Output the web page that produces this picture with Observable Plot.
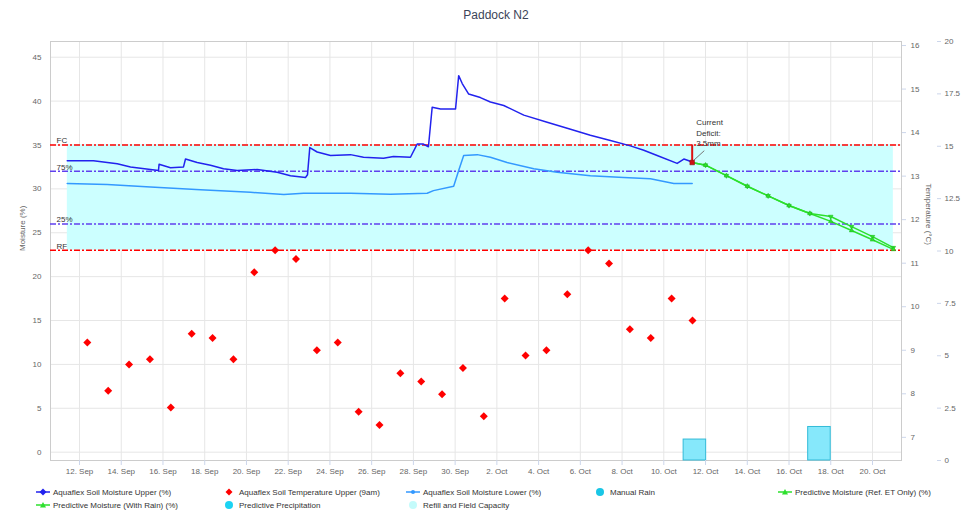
<!DOCTYPE html>
<html><head><meta charset="utf-8">
<script src="https://cdn.jsdelivr.net/npm/d3@7"></script>
<script src="https://cdn.jsdelivr.net/npm/@observablehq/plot@0.6"></script>
<style>
body{margin:0;background:#fff;font-family:"Liberation Sans",Arial,sans-serif;}
#wrap{position:relative;width:964px;height:524px;overflow:hidden;background:#fff;}
#chart{position:absolute;left:0;top:0;}
#title{position:absolute;left:14px;width:964px;top:8px;text-align:center;font-size:12px;color:#3b4458;}
.leg{position:absolute;font-size:8px;color:#333;white-space:nowrap;display:flex;align-items:center;height:12px;}
.leg svg{margin-right:2px;}
</style></head><body>
<div id="wrap"><div id="chart"></div><div id="title">Paddock N2</div><div id="legend"></div></div>
<script>
// ---------- DATA ----------
const year = 2023;
const xTickLabels = ["09-12","09-14","09-16","09-18","09-20","09-22","09-24","09-26","09-28","09-30","10-02","10-04","10-06","10-08","10-10","10-12","10-14","10-16","10-18","10-20"];
const moistureTicks = [0,5,10,15,20,25,30,35,40,45];
const temperatureTicks = [7,8,9,10,11,12,13,14,15,16];
const rainTicks = [0,2.5,5,7.5,10,12.5,15,17.5,20];

const upperMoistureTimes = ["09-11 09:52","09-12 16:06","09-13 19:21","09-14 10:40","09-15 09:39","09-15 18:51","09-15 19:30","09-16 08:38","09-16 23:36","09-17 01:54","09-17 15:21","09-18 06:39","09-18 21:36","09-19 13:20","09-20 12:21","09-21 11:21","09-22 02:38","09-22 19:55","09-22 22:12","09-23 00:50","09-23 09:20","09-24 00:40","09-24 23:38","09-25 14:36","09-26 13:36","09-27 01:05","09-27 20:38","09-28 04:19","09-28 11:33","09-28 17:18","09-28 21:36","09-29 07:12","09-30 00:29","09-30 04:05","09-30 08:10","09-30 15:36","10-01 05:02","10-01 16:34","10-02 07:55","10-03 06:58","10-04 09:50","10-05 12:43","10-06 11:31","10-07 10:34","10-08 09:36","10-09 00:58","10-09 16:19","10-10 15:21","10-10 23:02","10-11 04:48","10-11 08:38"];
const upperMoisture = [33.2,33.2,32.85,32.5,32.2,32.1,32.8,32.4,32.5,33.4,33.0,32.7,32.3,32.1,32.2,31.9,31.5,31.3,31.6,34.7,34.2,33.8,33.9,33.6,33.5,33.7,33.6,35.1,35.1,34.8,39.3,39.1,39.1,42.9,42.0,40.8,40.4,39.9,39.5,38.4,37.6,36.8,36.1,35.5,34.9,34.4,33.8,32.9,33.4,33.2,33.0];

const lowerMoistureTimes = ["09-11 09:52","09-13 07:51","09-15 09:39","09-17 19:09","09-20 04:39","09-21 18:56","09-22 17:35","09-24 23:38","09-26 21:36","09-28 15:50","09-28 23:05","09-29 22:19","09-30 04:05","09-30 09:50","10-01 01:26","10-01 16:34","10-02 11:46","10-03 18:29","10-04 21:22","10-06 11:31","10-08 01:55","10-09 08:38","10-10 11:31","10-11 08:38"];
const lowerMoisture = [30.6,30.5,30.2,29.9,29.6,29.35,29.5,29.5,29.4,29.5,29.8,30.3,32.1,33.8,33.9,33.6,33.0,32.3,31.9,31.5,31.3,31.15,30.6,30.6];

const tempDays = ["09-12","09-13","09-14","09-15","09-16","09-17","09-18","09-19","09-20","09-21","09-22","09-23","09-24","09-25","09-26","09-27","09-28","09-29","09-30","10-01","10-02","10-03","10-04","10-05","10-06","10-07","10-08","10-09","10-10","10-11"];
const soilTempUpper9am = [12.5,7.0,10.0,10.6,5.1,13.5,13.0,10.6,20.5,23.0,22.0,11.6,12.5,4.6,3.1,9.0,8.05,6.6,9.6,4.1,17.5,11.0,11.6,18.0,23.0,21.5,14.0,13.0,17.5,15.0];

const predictTimes = ["10-11 08:38","10-12 00:00","10-13 00:00","10-14 00:00","10-15 00:00","10-16 00:00","10-17 00:00","10-18 00:00","10-19 00:00","10-20 00:00","10-21 00:00"];
const predictEtOnly = [33.0,32.7,31.5,30.3,29.2,28.1,27.2,26.3,25.25,24.2,23.1];
const predictWithRain = [33.0,32.7,31.5,30.3,29.2,28.1,27.2,26.85,25.7,24.55,23.3];

const precipTimes = ["10-11 11:45","10-17 11:00"];
const precipMm = [1.0,1.6];

const thresholdLabels = ["FC","75%","25%","RF"];
const thresholdValues = [35,32,26,23];
const bandStart = "09-11 10:00", bandEnd = "10-21 00:00";

const deficitTime = "10-11 08:38", deficitMoisture = 33.0, deficitLabel = "Current\nDeficit:\n3.5mm";

// ---------- helpers ----------
const T = s => new Date(`${year}-${s.length === 5 ? s + " 00:00" : s}`.replace(" ", "T") + ":00Z");
const DAY = 864e5;
const yDomain = [-0.95, 46.79];
const tToV = t => 1.69 + (t - 7) * 4.96;
const vToT = v => (v - 1.69) / 4.96 + 7;
const rToV = r => -0.95 + r * 2.387;
const vToR = v => (v + 0.95) / 2.387;
const fmtNum = d3.format("~g");
const xFmt = d3.utcFormat("%-d. %b");

const upper = upperMoistureTimes.map((s, i) => ({t: T(s), v: upperMoisture[i]}));
const lower = lowerMoistureTimes.map((s, i) => ({t: T(s), v: lowerMoisture[i]}));
const temps = tempDays.map((s, i) => ({t: T(s + " 09:00"), v: soilTempUpper9am[i]}));
const etOnly = predictTimes.map((s, i) => ({t: T(s), v: predictEtOnly[i]}));
const withRain = predictTimes.map((s, i) => ({t: T(s), v: predictWithRain[i]}));
const precip = precipTimes.map((s, i) => ({t: T(s), mm: precipMm[i]}));
const thresholds = thresholdLabels.map((l, i) => ({label: l, v: thresholdValues[i]}));
const xTicks = xTickLabels.map(T);
const deficit = [{t: T(deficitTime), v: deficitMoisture, fc: thresholdValues[0], label: deficitLabel}];

const chart = Plot.plot({
  width: 964, height: 480,
  marginTop: 41, marginRight: 63, marginBottom: 20, marginLeft: 50,
  style: {fontFamily: "Liberation Sans, Arial, sans-serif", fontSize: "8px", color: "#666", background: "transparent", overflow: "visible"},
  x: {type: "utc", domain: [T("09-10 14:38"), T("10-21 09:22")], axis: null},
  y: {domain: yDomain, axis: null},
  marks: [
    Plot.gridY(moistureTicks, {stroke: "#e6e6e6", strokeOpacity: 1}),
    Plot.gridX(xTicks, {stroke: "#e6e6e6", strokeOpacity: 1}),
    Plot.rect([{}], {x1: T(bandStart), x2: T(bandEnd), y1: thresholdValues[3], y2: thresholdValues[0], fill: "#ccffff"}),
    Plot.frame({stroke: "#cccccc"}),
    Plot.rect(precip, {x1: d => new Date(+d.t - 0.54 * DAY), x2: d => new Date(+d.t + 0.54 * DAY), y1: rToV(0), y2: d => rToV(d.mm), fill: "#86e8fb", stroke: "#33bbd8", strokeWidth: 1}),
    Plot.ruleY(thresholds, {y: "v", stroke: d => d.label === "FC" || d.label === "RF" ? "#ff0000" : "#6040ee", strokeWidth: 1.5, strokeDasharray: "6,2,2,2"}),
    Plot.text(thresholds, {y: "v", text: "label", frameAnchor: "left", dx: 6, dy: -1.5, lineAnchor: "bottom", textAnchor: "start", fill: "#333", fontSize: 8}),
    Plot.line(lower, {x: "t", y: "v", stroke: "#3399ff", strokeWidth: 1.5}),
    Plot.line(upper, {x: "t", y: "v", stroke: "#2222ee", strokeWidth: 1.5}),
    Plot.line(withRain, {x: "t", y: "v", stroke: "#2ee02e", strokeWidth: 1.5}),
    Plot.line(etOnly, {x: "t", y: "v", stroke: "#2ee02e", strokeWidth: 1.5}),
    Plot.dot(withRain.slice(1), {x: "t", y: "v", symbol: "triangle2", rotate: 180, r: 2.2, fill: "#2ee02e", stroke: "#1bb81b", strokeWidth: 0.5}),
    Plot.dot(etOnly.slice(1), {x: "t", y: "v", symbol: "triangle2", r: 2.2, fill: "#2ee02e", stroke: "#1bb81b", strokeWidth: 0.5}),
    Plot.dot(temps, {x: "t", y: "v", symbol: "diamond2", r: 3.6, fill: "#ff0000"}),
    Plot.ruleX(deficit, {x: "t", y1: "v", y2: "fc", stroke: "#dd1111", strokeWidth: 2}),
    Plot.link(deficit, {x1: d => new Date(+d.t + 0.05 * DAY), y1: d => d.v + 0.2, x2: d => new Date(+d.t + 0.58 * DAY), y2: d => d.v + 1.35, stroke: "#777", strokeWidth: 1}),
    Plot.dot(deficit, {x: "t", y: "v", symbol: "square", r: 2.6, fill: "#cc1111", stroke: "#881111", strokeWidth: 0.5}),
    Plot.text(deficit, {x: "t", y: "fc", text: "label", dx: 4, dy: 1, textAnchor: "start", lineAnchor: "bottom", lineHeight: 1.3, fill: "#333", fontSize: 8}),
    Plot.axisX(xTicks, {tickFormat: xFmt, tickSize: 5, tickPadding: 3, stroke: "#ccd6eb", fill: "#666", label: null}),
    Plot.axisY(moistureTicks, {anchor: "left", tickSize: 0, tickPadding: 9, fill: "#666", label: null}),
    Plot.axisY(temperatureTicks.map(tToV), {anchor: "right", tickSize: 4, tickPadding: 5, stroke: "#ccd6eb", fill: "#666", tickFormat: v => fmtNum(+vToT(v).toFixed(2)), label: null}),
    Plot.axisY(rainTicks.map(rToV), {anchor: "right", dx: 35, tickSize: 4, tickPadding: 4, stroke: "#ccd6eb", fill: "#666", tickFormat: v => fmtNum(+vToR(v).toFixed(2)), label: null}),
    Plot.text(["Moisture (%)"], {text: d => d, frameAnchor: "left", rotate: -90, dx: -28, fill: "#666", fontSize: 8}),
    Plot.text(["Temperature (°C)"], {text: d => d, frameAnchor: "right", rotate: 90, dx: 27, dy: -6, fill: "#666", fontSize: 8})
  ]
});
document.getElementById("chart").appendChild(chart);

// ---------- legend ----------
const legendItems = [
  {label: "Aquaflex Soil Moisture Upper (%)", icon: "lineDiamond", color: "#2222ee", col: 0, row: 0},
  {label: "Aquaflex Soil Temperature Upper (9am)", icon: "diamond", color: "#ff0000", col: 1, row: 0},
  {label: "Aquaflex Soil Moisture Lower (%)", icon: "lineDot", color: "#3399ff", col: 2, row: 0},
  {label: "Manual Rain", icon: "circle", color: "#19c6e6", col: 3, row: 0},
  {label: "Predictive Moisture (Ref. ET Only) (%)", icon: "lineTri", color: "#2ee02e", col: 4, row: 0},
  {label: "Predictive Moisture (With Rain) (%)", icon: "lineTri", color: "#2ee02e", col: 0, row: 1},
  {label: "Predictive Precipitation", icon: "circle", color: "#1cd3f3", col: 1, row: 1},
  {label: "Refill and Field Capacity", icon: "circle", color: "#c4fbfb", col: 2, row: 1}
];
const colX = [43, 229, 413, 600, 785], rowY = [492, 505];
const icon = (k, c) => {
  const line = `<line x1="1" y1="5" x2="15" y2="5" stroke="${c}" stroke-width="1.5"/>`;
  if (k === "lineDiamond") return line + `<path d="M8 1.5L11.5 5L8 8.5L4.5 5Z" fill="${c}"/>`;
  if (k === "diamond") return `<path d="M8 1.5L11.5 5L8 8.5L4.5 5Z" fill="${c}"/>`;
  if (k === "lineDot") return line + `<circle cx="8" cy="5" r="2" fill="${c}"/>`;
  if (k === "lineTri") return line + `<path d="M8 2L11 7.5L5 7.5Z" fill="${c}"/>`;
  return `<circle cx="8" cy="5" r="4" fill="${c}"/>`;
};
const leg = document.getElementById("legend");
legendItems.forEach(it => {
  const d = document.createElement("div");
  d.className = "leg";
  d.style.left = (colX[it.col] - 8) + "px";
  d.style.top = (rowY[it.row] - 6) + "px";
  d.innerHTML = `<svg width="16" height="10">${icon(it.icon, it.color)}</svg><span>${it.label}</span>`;
  leg.appendChild(d);
});
</script>
</body></html>
